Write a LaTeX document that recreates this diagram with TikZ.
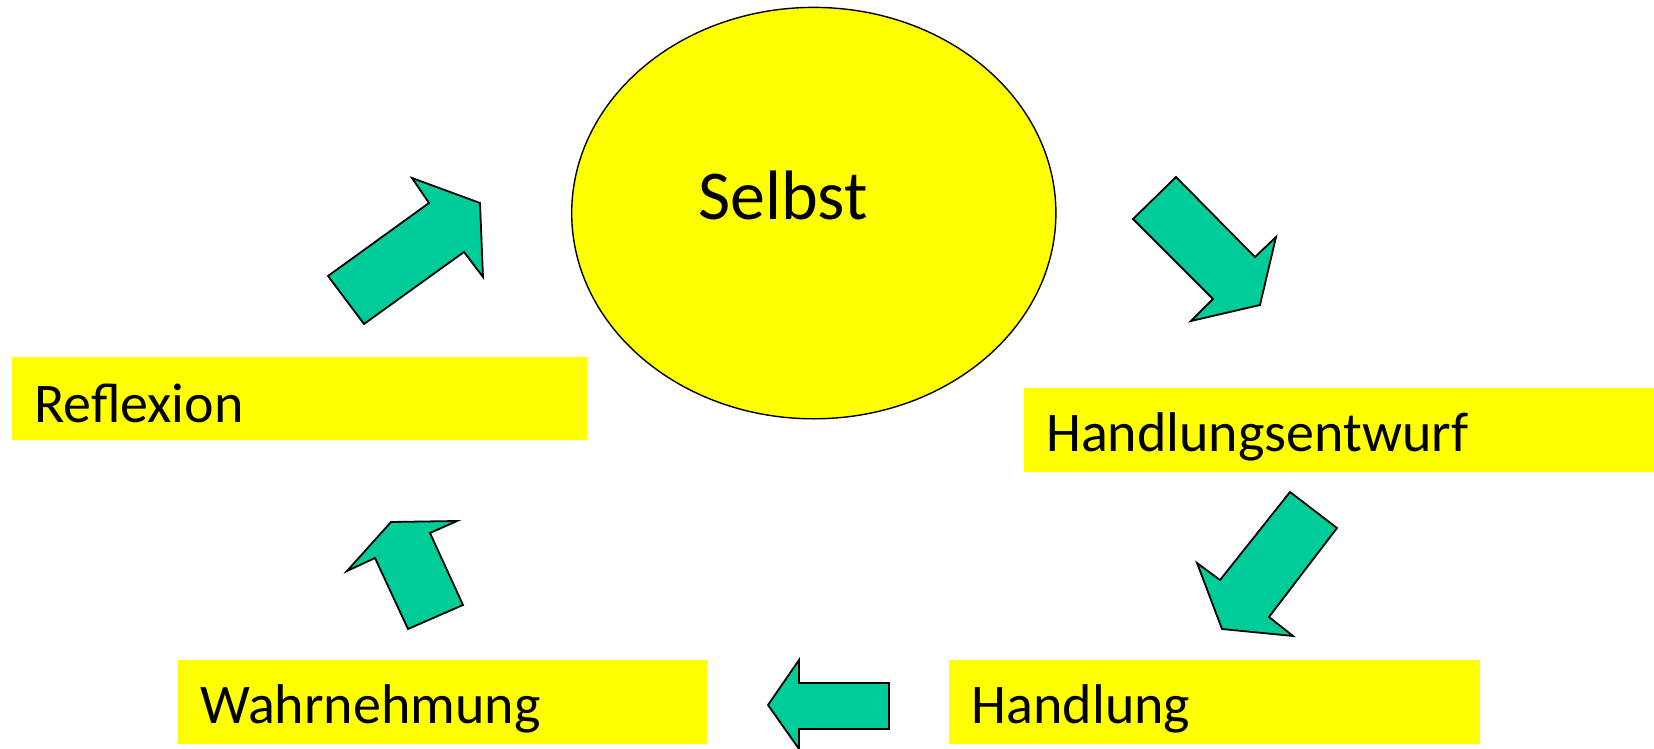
\documentclass[tikz,border=0pt]{standalone}
\usepackage{fontspec}
\setmainfont{Carlito}
\definecolor{boxyellow}{HTML}{FFFF00}
\definecolor{arrowgreen}{HTML}{00CC99}
\begin{document}
\begin{tikzpicture}[x=1pt,y=-1pt,
  box/.style={fill=boxyellow, anchor=north west, inner ysep=0pt, align=left,
    font=\fontsize{56}{60}\selectfont},
  blockarrow/.style={fill=arrowgreen, draw=black, line width=1.8pt, line join=miter}]
\useasboundingbox (0,0) rectangle (1654,749);

% central ellipse
\draw[fill=boxyellow, line width=1.4pt] (813.8,213.1) ellipse [x radius=242.1pt, y radius=205.7pt];
\node[font=\fontsize{70}{80}\selectfont, anchor=base west, inner sep=0pt] (selbst) at (698,219.4) {Selbst};

% label boxes
\node[box, inner xsep=22.4pt, text width=530pt, text height=65.5pt, text depth=18pt]
  (reflexion) at (11.6,356.5) {Reflexion};
\node[box, inner xsep=22pt, text width=586pt, text height=63.5pt, text depth=20pt]
  (entwurf) at (1024,388) {Handlungsentwurf};
\node[box, inner xsep=22.5pt, text width=486pt, text height=63.6pt, text depth=20.4pt]
  (handlung) at (949,660) {Handlung};
\node[box, inner xsep=22pt, text width=485pt, text height=63.6pt, text depth=20.4pt]
  (wahrnehmung) at (178,660) {Wahrnehmung};

% block arrows of the cycle
\draw[blockarrow] (328,276) -- (429,203) -- (412,178) -- (480,203) -- (483,277) -- (464,252) -- (364,324) -- cycle;
\draw[blockarrow] (1176,177) -- (1255,257) -- (1276,237) -- (1260,305) -- (1191,321) -- (1213,299) -- (1133,219) -- cycle;
\draw[blockarrow] (1290,492) -- (1337,528) -- (1269,617) -- (1293,636) -- (1222,629) -- (1197,563) -- (1220,580) -- cycle;
\draw[blockarrow] (889,683) -- (889,729) -- (799,729) -- (799,749) -- (768,705) -- (799,660) -- (799,683) -- cycle;
\draw[blockarrow] (408,629) -- (463,605) -- (430,533) -- (457,521) -- (391,522) -- (347,571) -- (375,558) -- cycle;
\end{tikzpicture}
\end{document}
